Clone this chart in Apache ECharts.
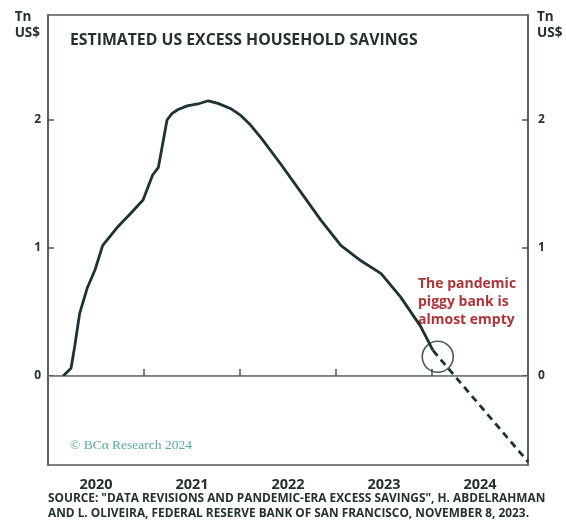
<!DOCTYPE html>
<html>
<head>
<meta charset="utf-8">
<script src="https://cdn.jsdelivr.net/npm/echarts@6/dist/echarts.min.js"></script>
<style>
html,body{margin:0;padding:0;background:#fff;}
#chart{width:566px;height:524px;}
</style>
</head>
<body>
<div id="chart"></div>
<script>
// Decimal years and excess savings (Tn US$)
const years = [2020.157, 2020.24, 2020.28, 2020.33, 2020.41, 2020.49, 2020.57, 2020.72, 2020.86, 2020.99,
  2021.09, 2021.15, 2021.24, 2021.29, 2021.35, 2021.45, 2021.56, 2021.67, 2021.77, 2021.90,
  2022.00, 2022.11, 2022.23, 2022.42, 2022.63, 2022.84, 2023.05, 2023.26, 2023.47, 2023.67, 2023.88, 2024.01];
const savings = [0.00, 0.06, 0.24, 0.49, 0.69, 0.83, 1.02, 1.16, 1.27, 1.375,
  1.57, 1.63, 2.00, 2.05, 2.08, 2.11, 2.125, 2.15, 2.13, 2.09,
  2.04, 1.96, 1.85, 1.66, 1.44, 1.22, 1.02, 0.90, 0.80, 0.62, 0.39, 0.20];
const projYears = [2024.01, 2025.0];
const projSavings = [0.20, -0.67];
const circlePoint = [2024.06, 0.15];
const xLabelYears = [2020, 2021, 2022, 2023, 2024];
const xTickYears = [2021, 2022, 2023, 2024];
const yTicks = [0, 1, 2];

const dark = '#1d3232';
const axisCol = '#4f5858';
const textCol = '#26302f';
const font = '"Open Sans", "DejaVu Sans", sans-serif';

const chart = echarts.init(document.getElementById('chart'));
function yAxisDef(position, margin) {
  return {
    type: 'value', min: -0.695, max: 2.82, position: position,
    axisLine: {show: true, lineStyle: {color: axisCol, width: 1.5}},
    axisTick: {show: true, inside: true, length: 6, customValues: yTicks, lineStyle: {color: axisCol, width: 1.5}},
    axisLabel: {customValues: yTicks, color: textCol, fontFamily: font, fontWeight: 700, fontSize: 12, margin: margin},
    splitLine: {show: false}
  };
}
chart.setOption({
  animation: false,
  backgroundColor: '#fff',
  grid: {left: 48, right: 38, top: 15, bottom: 59, show: true, borderColor: axisCol, borderWidth: 1.5, backgroundColor: 'transparent'},
  xAxis: {
    type: 'value', min: 2020, max: 2025,
    axisLine: {show: true, lineStyle: {color: axisCol, width: 1.5}},
    axisTick: {show: true, inside: true, length: 7, customValues: xTickYears, lineStyle: {color: axisCol, width: 1.5}},
    axisLabel: {customValues: xLabelYears.map(v => v + 0.5), formatter: v => String(Math.floor(v)),
      color: textCol, fontFamily: font, fontWeight: 700, fontSize: 14.5, margin: 12},
    splitLine: {show: false}
  },
  yAxis: [yAxisDef('left', 7), yAxisDef('right', 10)],
  series: [
    {
      type: 'line', data: years.map((y, i) => [y, savings[i]]), showSymbol: false, smooth: false,
      lineStyle: {color: dark, width: 2.8}, z: 3,
      markLine: {silent: true, symbol: 'none', label: {show: false},
        lineStyle: {color: '#8a9090', width: 1.2, type: 'solid'},
        data: [{yAxis: 0}]}
    },
    {
      type: 'line', data: projYears.map((y, i) => [y, projSavings[i]]), showSymbol: false,
      lineStyle: {color: dark, width: 2.8, type: [7, 5]}, z: 3
    },
    {
      type: 'scatter', data: [circlePoint], symbol: 'circle', symbolSize: 31,
      itemStyle: {color: 'rgba(0,0,0,0)', borderColor: dark, borderWidth: 1.6}, z: 4
    }
  ],
  graphic: [
    {type: 'text', left: 70, top: 32, style: {text: 'ESTIMATED US EXCESS HOUSEHOLD SAVINGS', fill: textCol, font: '700 15.8px ' + font}},
    {type: 'text', right: 526, top: 9, style: {text: 'Tn\nUS$', fill: textCol, font: '700 13.5px ' + font, align: 'right', lineHeight: 16}},
    {type: 'text', left: 537, top: 9, style: {text: 'Tn\nUS$', fill: textCol, font: '700 13.5px ' + font, lineHeight: 16}},
    {type: 'text', left: 418, top: 275, style: {text: 'The pandemic\npiggy bank is\nalmost empty', fill: '#ad3438', font: '700 14px ' + font, lineHeight: 18}},
    {type: 'text', left: 70, top: 438, style: {text: '© BCα Research 2024', fill: '#5aab97', font: '13.5px "Liberation Serif", "DejaVu Serif", serif'}},
    {type: 'text', left: 48, top: 491, style: {text: 'SOURCE: "DATA REVISIONS AND PANDEMIC-ERA EXCESS SAVINGS", H. ABDELRAHMAN\nAND L. OLIVEIRA, FEDERAL RESERVE BANK OF SAN FRANCISCO, NOVEMBER 8, 2023.', fill: textCol, font: '700 11.85px ' + font, lineHeight: 15}}
  ]
});
</script>
</body>
</html>
